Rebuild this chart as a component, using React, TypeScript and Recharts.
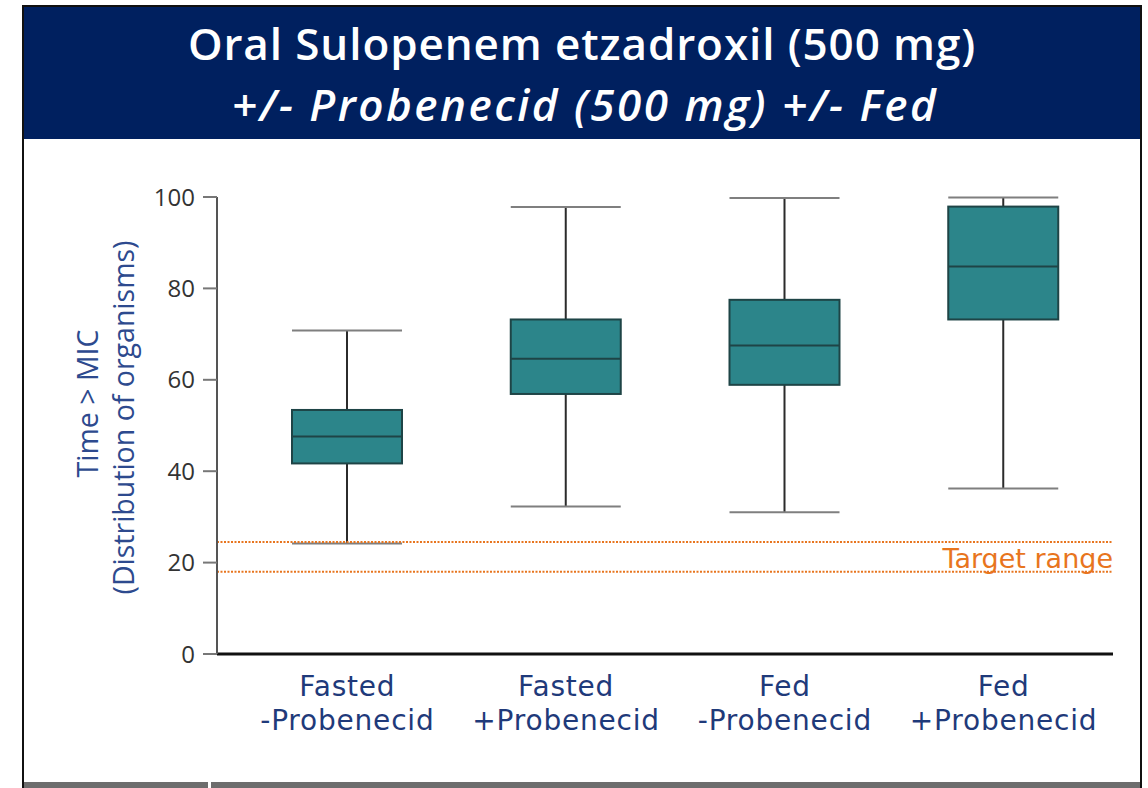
import React from 'react';
import { ComposedChart, Bar, XAxis, YAxis, ReferenceLine } from 'recharts';

// Box plot of Time > MIC by fed state and probenecid
const feeding = ['Fasted', 'Fasted', 'Fed', 'Fed'];
const probenecid = ['-Probenecid', '+Probenecid', '-Probenecid', '+Probenecid'];
const whiskerLow = [24.2, 32.3, 31.0, 36.2];
const quartile1 = [41.7, 56.9, 58.9, 73.2];
const medians = [47.6, 64.6, 67.5, 84.8];
const quartile3 = [53.4, 73.2, 77.5, 97.9];
const whiskerHigh = [70.8, 97.8, 99.8, 99.9];
const yTicks = [0, 20, 40, 60, 80, 100];
const targetRange = [18, 24.5];

const COLORS = {
  navy: '#00205F',
  box: '#2C858A',
  boxEdge: '#1E4446',
  whisker: '#2B2B2B',
  cap: '#7F7F7F',
  target: '#E8751E',
  xLabel: '#1F3A7A',
  yLabel: '#2D4A8E',
};

const data = feeding.map((f, i) => ({
  name: `${f} ${probenecid[i]}`,
  low: whiskerLow[i],
  q1: quartile1[i],
  median: medians[i],
  q3: quartile3[i],
  high: whiskerHigh[i],
}));

function BoxShape(props: any) {
  const { x, y, width, height, payload } = props;
  const top = Math.min(y, y + height);
  const h = Math.abs(height);
  const span = payload.high - payload.low;
  const px = (v: number) => top + (h * (payload.high - v)) / span;
  const cx = x + width / 2;
  return (
    <g>
      <line x1={cx} x2={cx} y1={px(payload.high)} y2={px(payload.low)} stroke={COLORS.whisker} strokeWidth={2} />
      <line x1={x} x2={x + width} y1={px(payload.high)} y2={px(payload.high)} stroke={COLORS.cap} strokeWidth={2} />
      <line x1={x} x2={x + width} y1={px(payload.low)} y2={px(payload.low)} stroke={COLORS.cap} strokeWidth={2} />
      <rect
        x={x}
        y={px(payload.q3)}
        width={width}
        height={px(payload.q1) - px(payload.q3)}
        fill={COLORS.box}
        stroke={COLORS.boxEdge}
        strokeWidth={2}
      />
      <line x1={x} x2={x + width} y1={px(payload.median)} y2={px(payload.median)} stroke={COLORS.boxEdge} strokeWidth={2} />
    </g>
  );
}

function CategoryTick(props: any) {
  const { x, y, index } = props;
  const style = { fontFamily: '"DejaVu Sans", sans-serif', fontSize: 28, letterSpacing: 0.8 };
  return (
    <g>
      <text x={x} y={y + 42} textAnchor="middle" fill={COLORS.xLabel} style={style}>
        {feeding[index]}
      </text>
      <text x={x} y={y + 76} textAnchor="middle" fill={COLORS.xLabel} style={style}>
        {probenecid[index]}
      </text>
    </g>
  );
}

function YAxisTitle(props: any) {
  const { viewBox } = props;
  const cy = viewBox.y + viewBox.height / 2;
  const x1 = viewBox.x - 70;
  const x2 = viewBox.x - 34;
  const y1 = cy - 22;
  const y2 = cy - 8;
  const style = { fontFamily: '"Open Sans", sans-serif', fontSize: 28.5 };
  return (
    <g>
      <text x={x1} y={y1} transform={`rotate(-90, ${x1}, ${y1})`} textAnchor="middle" dominantBaseline="central" fill={COLORS.yLabel} style={style}>
        {'Time > MIC'}
      </text>
      <text x={x2} y={y2} transform={`rotate(-90, ${x2}, ${y2})`} textAnchor="middle" dominantBaseline="central" fill={COLORS.yLabel} style={style}>
        (Distribution of organisms)
      </text>
    </g>
  );
}

function TargetLabel(props: any) {
  const { viewBox } = props;
  if (!viewBox) return null;
  return (
    <text
      x={viewBox.x + viewBox.width}
      y={viewBox.y - 4}
      textAnchor="end"
      fill={COLORS.target}
      style={{ fontFamily: '"DejaVu Sans", sans-serif', fontSize: 27 }}
    >
      Target range
    </text>
  );
}

const titleStyle: React.CSSProperties = {
  position: 'absolute',
  left: 24,
  width: 1116,
  textAlign: 'center',
  color: '#fff',
  fontFamily: '"Open Sans", sans-serif',
  fontWeight: 600,
  fontSize: 44,
  lineHeight: '44px',
  whiteSpace: 'nowrap',
};

export default function App() {
  return (
    <div style={{ position: 'absolute', left: 0, top: 0, width: 1148, height: 788, background: '#fff', overflow: 'hidden' }}>
      {/* slide frame */}
      <div style={{ position: 'absolute', left: 22, top: 5, width: 1120, height: 2, background: '#111' }} />
      <div style={{ position: 'absolute', left: 22, top: 5, width: 2, height: 783, background: '#111' }} />
      <div style={{ position: 'absolute', left: 1140, top: 5, width: 2, height: 783, background: '#111' }} />
      <div style={{ position: 'absolute', left: 24, top: 782, width: 1116, height: 6, background: '#6D6D6D' }} />
      <div style={{ position: 'absolute', left: 208, top: 782, width: 3, height: 6, background: '#fff' }} />

      {/* header */}
      <div
        style={{
          position: 'absolute',
          left: 24,
          top: 7,
          width: 1116,
          height: 132,
          background: COLORS.navy,
        }}
      />
      <div style={{ ...titleStyle, top: 21, letterSpacing: 0.9 }}>Oral Sulopenem etzadroxil (500 mg)</div>
      <div style={{ ...titleStyle, top: 82, fontStyle: 'italic', letterSpacing: 2.5, paddingLeft: 6, width: 1110 }}>
        +/- Probenecid (500 mg) +/- Fed
      </div>

      <div style={{ position: 'absolute', left: 0, top: 0 }}>
        <ComposedChart
          width={1148}
          height={788}
          data={data}
          margin={{ top: 197, right: 35, bottom: 34, left: 157 }}
        >
          <XAxis
            dataKey="name"
            type="category"
            padding={{ left: 21, right: 0 }}
            axisLine={{ stroke: '#111', strokeWidth: 3 }}
            tickLine={false}
            tickSize={0}
            tickMargin={0}
            height={100}
            interval={0}
            tick={<CategoryTick />}
          />
          <YAxis
            type="number"
            domain={[0, 100]}
            ticks={yTicks}
            width={60}
            axisLine={{ stroke: '#555', strokeWidth: 2 }}
            tickLine={{ stroke: '#777', strokeWidth: 2 }}
            tickSize={14}
            tickMargin={8}
            tick={{ fill: '#333', fontSize: 24, fontFamily: '"Open Sans", sans-serif' }}
            label={<YAxisTitle />}
          />
          <ReferenceLine y={targetRange[1]} stroke={COLORS.target} strokeWidth={2} strokeDasharray="2 1.5" />
          <ReferenceLine
            y={targetRange[0]}
            stroke={COLORS.target}
            strokeWidth={2}
            strokeDasharray="2 1.5"
            label={<TargetLabel />}
          />
          <Bar
            dataKey={(d: any) => [d.low, d.high]}
            barSize={110}
            shape={<BoxShape />}
            isAnimationActive={false}
          />
        </ComposedChart>
      </div>
    </div>
  );
}
